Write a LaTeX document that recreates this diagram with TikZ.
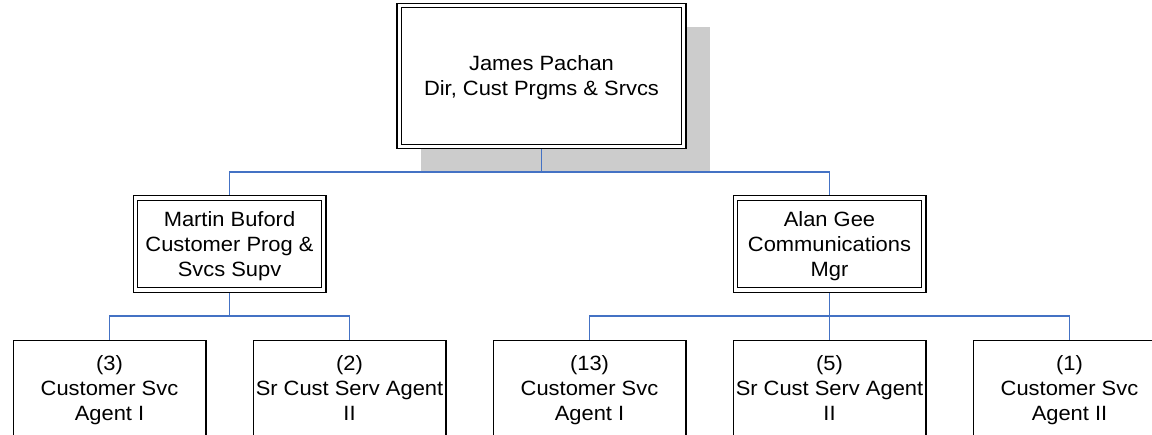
\documentclass[tikz,border=0pt]{standalone}
\usepackage{fontspec}
\setmainfont{Liberation Sans}[FakeStretch=1.06]
\usetikzlibrary{backgrounds}
\newcommand{\tstrut}{\rule{0pt}{0.97em}}
\newcommand{\bstrut}{\rule[-0.25em]{0pt}{0pt}}
\definecolor{connblue}{RGB}{68,114,196}
\definecolor{shadowgray}{RGB}{204,204,204}
\tikzset{
  boxtext/.style={font=\fontsize{15.5}{18.75}\selectfont, align=center, inner sep=0pt, outer sep=0pt},
  dblbox/.style={boxtext, rectangle, draw=black, fill=white, double=white, double distance=2.5pt, line width=0.9pt},
  topbox/.style={dblbox, minimum width=213.4pt, minimum height=105.75pt},
  mgrbox/.style={dblbox, minimum width=141.2pt, minimum height=68.8pt},
  staffbox/.style={boxtext, rectangle, draw=black, fill=white, line width=1.1pt, minimum width=144.4pt, minimum height=71.6pt},
  conn/.style={draw=connblue, line width=1.4pt},
  shadowfill/.style={fill=shadowgray}
}
\begin{document}
\begin{tikzpicture}[x=0.75pt,y=-0.75pt]
\useasboundingbox (0,0) rectangle (1152,435);
\node[topbox] (top) at (541.5,76) {\tstrut James Pachan\\Dir, Cust Prgms \& Srvcs\bstrut};
\node[mgrbox] (mL) at (229.5,244) {\tstrut Martin Buford\\Customer Prog \&\\Svcs Supv\bstrut};
\node[mgrbox] (mR) at (829.5,244) {\tstrut Alan Gee\\Communications\\Mgr\bstrut};
\node[staffbox] (bL1) at (109.5,388.4) {\tstrut (3)\\Customer Svc\\Agent I\bstrut};
\node[staffbox] (bL2) at (349.5,388.4) {\tstrut (2)\\Sr Cust Serv Agent\\II\bstrut};
\node[staffbox] (bR1) at (589.5,388.4) {\tstrut (13)\\Customer Svc\\Agent I\bstrut};
\node[staffbox] (bR2) at (829.5,388.4) {\tstrut (5)\\Sr Cust Serv Agent\\II\bstrut};
\node[staffbox] (bR3) at (1069.5,388.4) {\tstrut (1)\\Customer Svc\\Agent II\bstrut};
\begin{pgfonlayer}{background}
  \fill[shadowfill] (421,27) rectangle (710,172);
  \coordinate (bus0) at (541.5,172);
  \coordinate (busL) at (229.5,316);
  \coordinate (busR) at (829.5,316);
  \draw[conn] (top.south) -- (bus0);
  \draw[conn] (mL.north) |- (bus0) -| (mR.north);
  \draw[conn] (mL.south) -- (busL);
  \draw[conn] (bL1.north) |- (busL) -| (bL2.north);
  \draw[conn] (mR.south) -- (busR);
  \draw[conn] (bR1.north) |- (busR) -| (bR3.north);
  \draw[conn] (busR) -- (bR2.north);
\end{pgfonlayer}
\end{tikzpicture}
\end{document}
